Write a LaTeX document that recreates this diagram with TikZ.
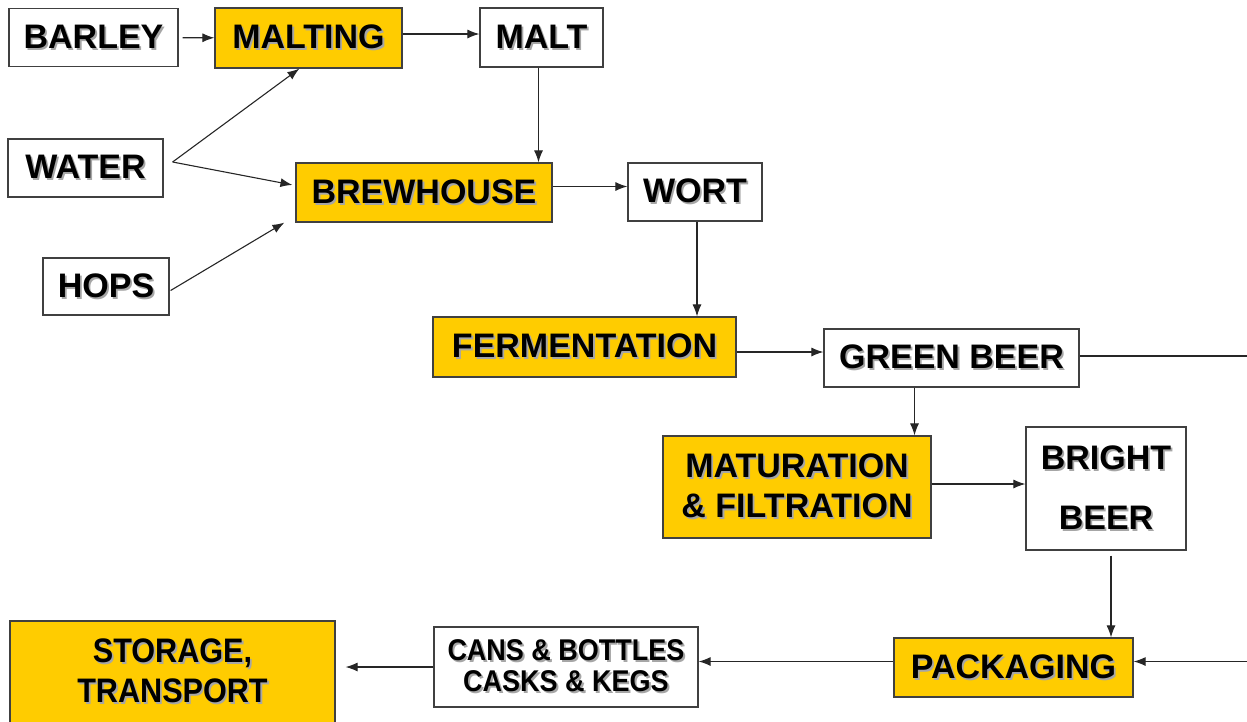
\documentclass[tikz,border=0pt]{standalone}
\usepackage{fontspec}
\setmainfont{Liberation Sans}
\newfontfamily\narrowfont[FakeStretch=0.9]{Liberation Sans}
\usepackage{xcolor}
\usetikzlibrary{arrows.meta, calc}

\definecolor{stepgold}{RGB}{255,204,0}
% text with a soft grey drop shadow
\newcommand{\sh}[1]{\rlap{\kern1.8pt\raisebox{-1.8pt}{\textcolor{black!35}{#1}}}#1}

\tikzset{
    box/.style={draw=black!75, line width=1.2pt, inner sep=0pt, align=center,
        font=\bfseries\fontsize{34}{40}\selectfont},
    ybox/.style={box, fill=stepgold},
    arr/.style={draw=black!85, line width=1.1pt, -{Latex[length=12pt,width=9pt]}}
}

\begin{document}
\begin{tikzpicture}[x=1pt, y=-1pt]
    \useasboundingbox (0,0) rectangle (1247,721);
    \clip (0,0) rectangle (1247,721);

    % inputs
    \node[box, minimum width=169, minimum height=58] (barley) at (93.5,37.5) {\sh{BARLEY}};
    \node[box, minimum width=155, minimum height=58] (water) at (85.5,168) {\sh{WATER}};
    \node[box, minimum width=126, minimum height=57] (hops) at (106,286.5) {\sh{HOPS}};

    % process steps and products
    \node[ybox, minimum width=187, minimum height=60] (malting) at (308.5,38) {\sh{MALTING}};
    \node[box, minimum width=123, minimum height=59] (malt) at (541.5,37.5) {\sh{MALT}};
    \node[ybox, minimum width=256, minimum height=59] (brewhouse) at (424,192.5) {\sh{BREWHOUSE}};
    \node[box, minimum width=134, minimum height=58] (wort) at (695,192) {\sh{WORT}};
    \node[ybox, minimum width=303, minimum height=60] (ferm) at (584.5,347) {\sh{FERMENTATION}};
    \node[box, minimum width=255, minimum height=58] (green) at (951.5,358) {\sh{GREEN BEER}};
    \node[ybox, minimum width=268, minimum height=102] (matur) at (797,487)
        {\sh{MATURATION}\\\sh{\& FILTRATION}};
    \node[box, minimum width=160, minimum height=123,
        font=\bfseries\fontsize{34}{60}\selectfont] (bright) at (1106,488.5) {\sh{BRIGHT}\\\sh{BEER}};
    \node[ybox, minimum width=239, minimum height=59] (pack) at (1013.5,667.5) {\sh{PACKAGING}};
    \node[box, minimum width=264, minimum height=80,
        font=\narrowfont\bfseries\fontsize{30}{31}\selectfont] (cans) at (566,667)
        {\sh{CANS \& BOTTLES}\\\sh{CASKS \& KEGS}};
    \node[ybox, minimum width=325, minimum height=102,
        font=\narrowfont\bfseries\fontsize{34}{40}\selectfont] (storage) at (172.5,672)
        {\sh{STORAGE,}\\\sh{TRANSPORT}};

    % flow
    \draw[arr, shorten <=4pt] (barley) -- (malting);
    \draw[arr] ([yshift=4pt]malting.east) -- ([yshift=4pt]malting.east -| malt.west);
    \draw[arr] ([xshift=-3pt]malt.south) -- ([xshift=-3pt]malt.south |- brewhouse.north);
    \coordinate (wsplit) at ([xshift=9pt, yshift=6pt]water.east);
    \draw[arr] (wsplit) -- ([xshift=85pt]malting.south west);
    \draw[arr, shorten >=3pt] (wsplit) -- ([yshift=7pt]brewhouse.west);
    \draw[arr] ([xshift=1pt, yshift=-4pt]hops.east) -- ([xshift=-11pt]brewhouse.south west);
    \draw[arr] ([yshift=6pt]brewhouse.east) -- ([yshift=6pt]brewhouse.east -| wort.west);
    \draw[arr] ([xshift=2pt]wort.south) -- ([xshift=2pt]wort.south |- ferm.north);
    \draw[arr] ([yshift=-5pt]ferm.east) -- ([yshift=-5pt]ferm.east -| green.west);
    \draw[arr] ([yshift=2pt]green.east) -- ++(190,0) |- ([yshift=6pt]pack.east);
    \draw[arr] ([xshift=-37pt]green.south) -- ([xshift=-37pt]green.south |- matur.north);
    \draw[arr] ([yshift=3pt]matur.east) -- ([yshift=3pt]matur.east -| bright.west);
    \draw[arr] ([xshift=5pt, yshift=-5pt]bright.south) -- ([xshift=5pt]bright.south |- pack.north);
    \draw[arr] ([yshift=6pt]pack.west) -- ([yshift=6pt]pack.west -| cans.east);
    \draw[arr, shorten >=10pt] (cans.west) -- (cans.west -| storage.east);
\end{tikzpicture}
\end{document}
